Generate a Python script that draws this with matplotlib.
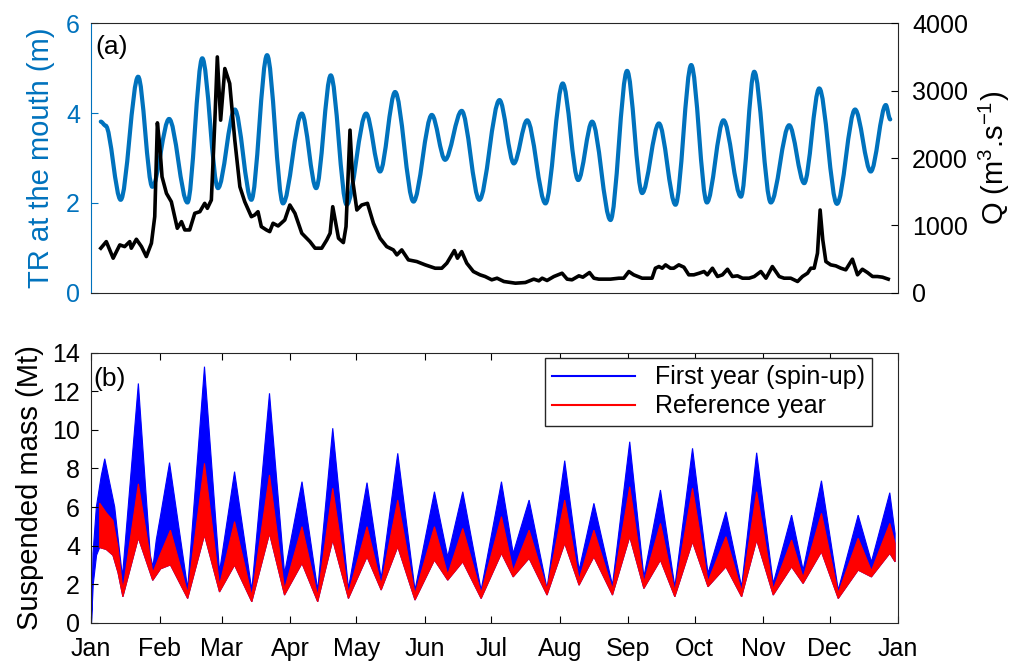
import numpy as np
import matplotlib
matplotlib.use('Agg')
import matplotlib.pyplot as plt
from matplotlib.path import Path
from matplotlib.patches import PathPatch

plt.rcParams['font.family'] = ['Liberation Sans', 'DejaVu Sans']
plt.rcParams['mathtext.fontset'] = 'custom'
plt.rcParams['mathtext.rm'] = 'Liberation Sans'
plt.rcParams['mathtext.it'] = 'Liberation Sans:italic'

# ---- panel (a): tidal range at the mouth (m), turning points, day of year ----
tr_day = [4.4, 6.6, 13.4, 21.3, 27.7, 35.3, 43.6, 50.3, 57.4, 65.0, 72.5, 79.6,
          86.8, 95.3, 101.8, 108.4, 115.6, 124.4, 130.7, 137.5, 145.8, 154.1,
          160.1, 167.6, 175.6, 184.7, 191.2, 197.2, 205.5, 213.3, 220.3, 226.6,
          234.9, 242.4, 249.2, 256.8, 264.3, 271.4, 278.5, 286.0, 293.9, 299.9,
          307.4, 315.7, 322.5, 329.3, 337.3, 345.5, 352.6, 359.4, 361.4]
tr_val = [3.81, 3.72, 2.07, 4.81, 2.36, 3.87, 2.01, 5.22, 2.33, 4.08, 2.07, 5.29,
          1.99, 3.99, 2.33, 4.84, 1.96, 3.99, 2.70, 4.47, 2.03, 3.96,
          2.96, 4.05, 2.07, 4.29, 2.88, 3.84, 1.99, 4.66, 2.51, 3.81,
          1.62, 4.94, 2.22, 3.77, 1.96, 5.07, 2.01, 3.84, 2.14, 4.92,
          2.01, 3.73, 2.44, 4.55, 1.98, 4.08, 2.70, 4.18, 3.86]

# river discharge Q (m3/s)
q_day = [4.4, 6.9, 10.0, 13.0, 15.2, 17.5, 18.2, 20.5, 22.8, 25.0, 27.3, 28.8,
         30.0, 31.1, 32.1, 34.1, 36.3, 39.0, 40.9, 42.4, 44.6, 46.9, 49.2, 51.4,
         52.6, 54.4, 56.0, 57.1, 58.6, 60.5, 62.7, 65.0, 67.3, 69.5, 72.5, 74.0,
         75.5, 77.0, 79.3, 80.8, 82.3, 84.6, 87.6, 89.9, 92.2, 95.3, 99.0, 101.3,
         104.3, 106.6, 108.1, 109.3, 110.4, 111.9, 114.1, 115.3, 117.1, 118.3,
         120.2, 122.4, 125.0, 127.7, 130.7, 133.7, 136.7, 138.3, 140.5, 143.5,
         147.3, 151.1, 155.6, 158.6, 160.9, 164.3, 165.7, 167.6, 169.9, 172.9,
         175.9, 178.2, 181.2, 183.6, 186.7, 191.9, 196.4, 200.2, 202.5, 204.0,
         206.2, 209.3, 213.0, 215.3, 217.5, 220.6, 222.4, 225.4, 227.4, 229.6,
         234.9, 238.7, 240.9, 243.2, 245.4, 249.2, 253.7, 255.2, 256.8, 258.3,
         259.8, 262.0, 263.5, 265.8, 268.1, 270.3, 272.6, 275.0, 277.2, 278.7,
         281.0, 283.3, 285.5, 287.8, 290.0, 292.3, 294.6, 297.6, 299.9, 302.9,
         305.2, 308.1, 311.2, 313.4, 316.4, 319.5, 321.7, 324.0, 325.5, 327.0,
         328.5, 329.7, 330.9, 332.3, 334.5, 336.8, 339.1, 341.3, 344.3, 346.6,
         348.8, 351.1, 353.4, 355.6, 357.9, 360.5]
q_val = [662, 760, 514, 711, 686, 760, 662, 795, 686, 538, 736, 1130,
         2522, 2167, 1722, 1476, 1352, 958, 1056, 933, 933, 1180, 1204, 1328,
         1254, 1377, 2562, 3500, 2562, 3328, 3106, 2266, 1574, 1352, 1130, 1155,
         1204, 982, 933, 908, 1032, 992, 1081, 1303, 1180, 884, 760, 662,
         662, 785, 884, 1278, 1081, 810, 745, 982, 2414, 1674,
         1229, 1303, 1328, 1032, 810, 686, 637, 563, 637, 489,
         464, 415, 365, 365, 440, 627, 514, 612, 440, 316,
         267, 242, 193, 217, 168, 143, 153, 203, 178, 217,
         183, 242, 291, 203, 193, 252, 232, 301, 217, 203,
         203, 217, 217, 316, 267, 217, 217, 365, 390, 365,
         415, 365, 365, 415, 380, 267, 267, 291, 316, 267,
         365, 242, 267, 350, 242, 252, 217, 217, 242, 316,
         217, 390, 242, 217, 217, 168, 242, 291, 365, 365,
         588, 1229, 785, 464, 415, 400, 365, 341, 499, 267,
         350, 301, 242, 242, 232, 203]

# ---- panel (b): suspended mass envelopes (Mt) ----
spin_hi_day = [0.2, 0.9, 2.4, 4.6, 6.2, 10.7, 13.0, 14.2, 21.4, 26.8, 28.0, 29.5,
               31.5, 35.5, 43.7, 51.3, 58.1, 64.9, 72.7, 80.7, 87.5, 95.4, 102.5,
               109.3, 116.4, 124.8, 131.2, 138.7, 146.5, 155.3, 161.3, 168.1,
               176.4, 185.6, 190.9, 198.1, 206.2, 214.2, 220.7, 227.4, 235.8,
               243.6, 250.0, 257.5, 264.0, 272.0, 279.0, 287.1, 294.2, 301.0,
               308.5, 316.8, 322.0, 330.3, 337.9, 346.9, 352.9, 361.2, 363.6]
spin_hi = [0.0, 3.6, 6.0, 7.6, 8.5, 6.0, 3.6, 2.4, 12.4, 3.5, 2.9, 4.3,
           5.6, 8.3, 1.78, 13.27, 2.65, 7.83, 1.7, 11.89, 2.56, 7.31, 1.7,
           10.08, 1.78, 7.26, 2.3, 8.78, 1.7, 6.79, 3.42, 6.79,
           1.7, 7.31, 3.6, 6.36, 1.78, 8.4, 2.73, 6.19, 1.95,
           9.38, 2.38, 6.88, 1.87, 9.04, 2.56, 5.75, 1.87, 8.81,
           2.04, 5.58, 2.73, 7.36, 1.7, 5.58, 3.16, 6.74, 4.63]
spin_lo_day = [0.2, 1.0, 2.5]
spin_lo = [0.0, 2.0, 3.5]

ref_day = [3.9, 6.9, 9.9, 12.2, 14.4, 21.4, 27.9, 31.5, 35.9, 43.7, 51.3, 58.1,
           64.9, 72.7, 80.7, 87.5, 95.4, 102.5, 109.3, 116.4, 124.8, 131.2,
           138.7, 146.5, 155.3, 161.3, 168.1, 176.4, 185.6, 190.9, 198.1, 206.2,
           214.2, 220.7, 227.4, 235.8, 243.6, 250.0, 257.5, 264.0, 272.0, 279.0,
           287.1, 294.2, 301.0, 308.5, 316.8, 322.0, 330.3, 337.9, 346.9, 352.9,
           361.2, 363.6]
ref_hi = [6.2, 5.7, 5.3, 3.9, 1.7, 7.2, 2.6, 3.6, 4.8, 1.55, 8.26, 1.95,
          5.24, 1.4, 7.66, 1.75, 4.98, 1.4, 6.97, 1.55, 4.98, 2.0,
          6.36, 1.5, 4.98, 2.5, 4.89, 1.55, 5.5, 2.7, 4.8, 1.75,
          6.36, 2.25, 4.8, 1.75, 7.05, 2.1, 5.15, 1.65, 6.97, 2.15,
          4.46, 1.65, 6.79, 1.75, 4.29, 2.35, 5.67, 1.55, 4.38, 2.7,
          5.15, 4.12]
ref_lo = [3.9, 3.8, 3.5, 2.6, 1.35, 4.4, 2.2, 2.8, 3.0, 1.26, 4.55, 1.6,
          2.99, 1.09, 4.63, 1.44, 3.08, 1.09, 4.29, 1.26, 3.42, 1.7,
          3.94, 1.18, 3.25, 2.21, 3.16, 1.26, 3.6, 2.38, 3.34, 1.44,
          4.12, 1.95, 3.42, 1.44, 4.46, 1.78, 3.25, 1.35, 4.2, 1.87,
          2.9, 1.35, 4.29, 1.44, 2.9, 2.04, 3.68, 1.26, 2.73, 2.38,
          3.6, 3.16]

month_start = [0, 31, 59, 90, 120, 151, 181, 212, 243, 273, 304, 334, 365]
month_lbl = ['Jan', 'Feb', 'Mar', 'Apr', 'May', 'Jun', 'Jul', 'Aug', 'Sep',
             'Oct', 'Nov', 'Dec', 'Jan']

TRBLUE = '#0072BD'
BOX = '#262626'
FS = 18


def smooth_path(xs, ys):
    # cubic segments between turning points, flat tangent at each one
    verts = [(xs[0], ys[0])]
    codes = [Path.MOVETO]
    for x0, y0, x1, y1 in zip(xs[:-1], ys[:-1], xs[1:], ys[1:]):
        d = (x1 - x0) / 3.0
        verts += [(x0 + d, y0), (x1 - d, y1), (x1, y1)]
        codes += [Path.CURVE4] * 3
    return Path(verts, codes)


fig = plt.figure(figsize=(10.23, 6.64), dpi=100)

# top panel
ax1 = fig.add_axes([0.089, 0.559, 0.789, 0.406])
ax2 = ax1.twinx()
ax1.add_patch(PathPatch(smooth_path(tr_day, tr_val), fc='none', ec=TRBLUE,
                        lw=3, joinstyle='round', capstyle='round'))
ax2.plot(q_day, q_val, color='black', lw=2.6, solid_joinstyle='round')

ax1.set_xlim(0, 365)
ax1.set_ylim(0, 6)
ax1.set_yticks([0, 2, 4, 6])
ax2.set_ylim(0, 4000)
ax2.set_yticks([0, 1000, 2000, 3000, 4000])
ax1.tick_params(axis='x', bottom=False, labelbottom=False)
ax2.tick_params(axis='x', bottom=False, labelbottom=False)
ax1.tick_params(axis='y', direction='in', colors=TRBLUE, labelsize=FS, length=5, pad=8)
ax2.tick_params(axis='y', direction='in', colors='black', labelsize=FS, length=5, pad=10)
ax1.set_ylabel('TR at the mouth (m)', color=TRBLUE, fontsize=21, labelpad=8)
ax2.set_ylabel('Q (m$^{3}$.s$^{-1}$)', fontsize=21, labelpad=6)

for s in ['top', 'bottom']:
    ax1.spines[s].set_color(BOX)
    ax2.spines[s].set_visible(False)
ax1.spines['left'].set_color(TRBLUE)
ax1.spines['right'].set_visible(False)
ax2.spines['left'].set_visible(False)
ax2.spines['right'].set_color(BOX)
ax1.text(0.005, 0.955, '(a)', transform=ax1.transAxes, ha='left', va='top', fontsize=19)

# bottom panel
ax3 = fig.add_axes([0.089, 0.062, 0.789, 0.407])
ax3.fill(spin_hi_day + ref_day[::-1] + spin_lo_day[::-1],
         spin_hi + ref_lo[::-1] + spin_lo[::-1],
         color='blue', lw=0.8, ec='blue')
ax3.fill(ref_day + ref_day[::-1], ref_hi + ref_lo[::-1],
         color='red', lw=0.8, ec='red')
ax3.plot([], [], color='blue', lw=1.5, label='First year (spin-up)')
ax3.plot([], [], color='red', lw=1.5, label='Reference year')

ax3.set_xlim(0, 365)
ax3.set_ylim(0, 14)
ax3.set_yticks(np.arange(0, 15, 2))
ax3.set_xticks(month_start)
ax3.set_xticklabels(month_lbl)
ax3.tick_params(axis='x', direction='in', top=True, labelsize=FS, length=5, pad=10)
ax3.tick_params(axis='y', direction='in', labelsize=FS, length=5, pad=8)
ax3.set_ylabel('Suspended mass (Mt)', fontsize=21, labelpad=6)
for s in ax3.spines.values():
    s.set_color(BOX)
ax3.text(0.003, 0.945, '(b)', transform=ax3.transAxes, ha='left', va='top', fontsize=19)

leg = ax3.legend(loc='upper right', bbox_to_anchor=(0.968, 0.98), borderaxespad=0,
                 fontsize=FS, fancybox=False, framealpha=1, edgecolor=BOX,
                 handlelength=3.3, borderpad=0.3, labelspacing=0.2)
leg.get_frame().set_linewidth(1.0)

fig.savefig('out.png', dpi=100)
